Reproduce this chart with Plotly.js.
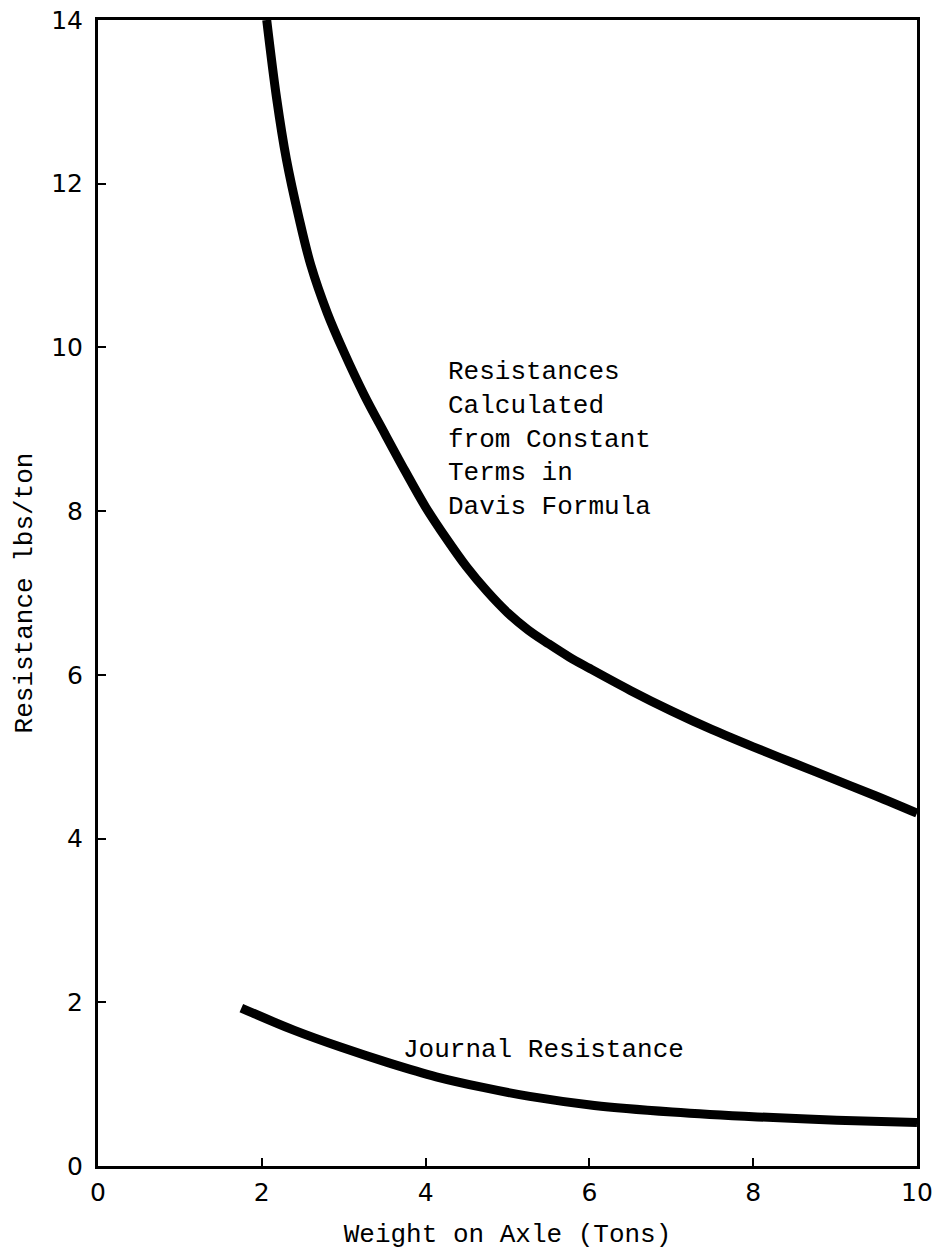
<!DOCTYPE html>
<html>
<head>
<meta charset="utf-8">
<script src="https://cdn.plot.ly/plotly-3.0.1.min.js"></script>
<style>
  html, body { margin: 0; padding: 0; background: #fff; }
  #chart { width: 937px; height: 1251px; }
</style>
</head>
<body>
<div id="chart"></div>
<script>
// Upper curve: resistances calculated from constant terms in Davis formula
const davisX = [2.06, 2.18, 2.30, 2.45, 2.60, 2.80, 3.00, 3.25, 3.50, 3.75, 4.00, 4.25, 4.50, 4.75, 5.00, 5.25, 5.50, 5.75, 6.00, 6.50, 7.00, 7.50, 8.00, 8.50, 9.00, 9.50, 10.0];
const davisY = [14.0, 13.05, 12.30, 11.60, 11.00, 10.42, 9.95, 9.42, 8.95, 8.49, 8.05, 7.67, 7.32, 7.02, 6.76, 6.55, 6.38, 6.22, 6.08, 5.81, 5.56, 5.33, 5.12, 4.92, 4.72, 4.52, 4.31];

// Lower curve: journal resistance
const journalX = [1.75, 2.39, 2.97, 3.55, 4.13, 4.70, 5.27, 6.06, 7.01, 8.05, 9.02, 10.0];
const journalY = [1.93, 1.66, 1.45, 1.26, 1.09, 0.96, 0.85, 0.74, 0.66, 0.60, 0.56, 0.53];

const xTicks = [0, 2, 4, 6, 8, 10];
const yTicks = [0, 2, 4, 6, 8, 10, 12, 14];

const davisLabel = "Resistances<br>Calculated<br>from Constant<br>Terms in<br>Davis Formula";
const journalLabel = "Journal Resistance";
const xTitle = "Weight on Axle (Tons)";
const yTitle = "Resistance lbs/ton";

const mono = "Liberation Mono, Courier New, monospace";
const num = "DejaVu Sans, sans-serif";

const traces = [
  { x: davisX, y: davisY, mode: "lines", type: "scatter",
    line: { color: "#000", width: 9, shape: "spline", smoothing: 1 }, hoverinfo: "skip" },
  { x: journalX, y: journalY, mode: "lines", type: "scatter",
    line: { color: "#000", width: 9, shape: "spline", smoothing: 1 }, hoverinfo: "skip" }
];

const layout = {
  width: 937, height: 1251,
  margin: { l: 98, r: 20, t: 20, b: 85 },
  paper_bgcolor: "#fff", plot_bgcolor: "#fff",
  showlegend: false,
  xaxis: {
    range: [0, 10], tickvals: xTicks, ticktext: xTicks.map(String),
    ticks: "inside", ticklen: 8, tickwidth: 2, tickcolor: "#000",
    showline: true, linewidth: 3, linecolor: "#000", mirror: true,
    showgrid: false, zeroline: false,
    tickfont: { family: num, size: 25, color: "#000" },
    ticklabelstandoff: 2,
    title: { text: xTitle, font: { family: mono, size: 26, color: "#000" }, standoff: 18 }
  },
  yaxis: {
    range: [0, 14], tickvals: yTicks, ticktext: yTicks.map(String),
    ticks: "inside", ticklen: 8, tickwidth: 2, tickcolor: "#000",
    showline: true, linewidth: 3, linecolor: "#000", mirror: true,
    showgrid: false, zeroline: false,
    tickfont: { family: num, size: 25, color: "#000" },
    ticklabelstandoff: 7,
    title: { text: yTitle, font: { family: mono, size: 26, color: "#000" }, standoff: 12 }
  },
  annotations: [
    { x: 4.25, y: 10.0, xref: "x", yref: "y", text: davisLabel, showarrow: false,
      xanchor: "left", yanchor: "top", align: "left", yshift: -8,
      font: { family: mono, size: 26, color: "#000" } },
    { x: 3.7, y: 1.42, xref: "x", yref: "y", text: journalLabel, showarrow: false,
      xanchor: "left", yanchor: "middle", align: "left",
      font: { family: mono, size: 26, color: "#000" } }
  ]
};

Plotly.newPlot("chart", traces, layout, { staticPlot: true, displayModeBar: false });
</script>
</body>
</html>
